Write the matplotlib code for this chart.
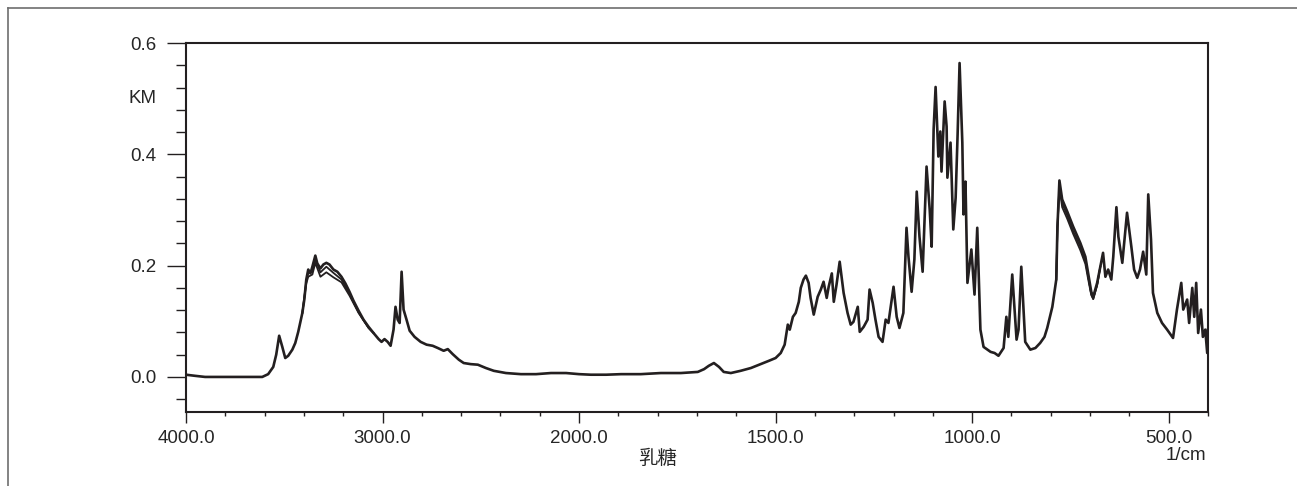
import numpy as np
import matplotlib
matplotlib.use("Agg")
import matplotlib.pyplot as plt
from matplotlib.lines import Line2D
from matplotlib.transforms import blended_transform_factory

# ---------------------------------------------------------------------------
# Data (wavenumber in 1/cm, KM units)
# ---------------------------------------------------------------------------
wavenumber = [
    4000, 3954, 3903, 3776, 3612, 3582, 3556, 3541, 3526, 3510, 3495, 3480,
    3459, 3444, 3429, 3408, 3398, 3388, 3378, 3367, 3357, 3342, 3332, 3316,
    3301, 3286, 3270, 3250, 3230, 3209, 3189, 3168, 3148, 3122, 3097, 3071,
    3046, 3020, 3005, 2990, 2974, 2959, 2944, 2934, 2923, 2913, 2903, 2893,
    2878, 2862, 2837, 2806, 2776, 2745, 2719, 2689, 2668, 2643, 2612, 2587,
    2551, 2515, 2474, 2434, 2372, 2296, 2219, 2143, 2066, 2000,
    1970, 1931, 1893, 1843, 1792, 1741, 1698, 1682, 1670, 1657, 1644, 1632,
    1614, 1589, 1563, 1538, 1517, 1500, 1487, 1477, 1469, 1464, 1456, 1449,
    1441, 1436, 1429, 1423, 1416, 1411, 1403, 1393, 1385, 1378, 1370, 1365,
    1357, 1352, 1345, 1337, 1327, 1317, 1309, 1302, 1291, 1286, 1276, 1266,
    1261, 1253, 1246, 1238, 1228, 1220, 1213, 1200, 1192, 1185, 1175, 1167,
    1162, 1154, 1147, 1141, 1134, 1126, 1116, 1108, 1103, 1098, 1093, 1086,
    1081, 1078, 1070, 1065, 1063, 1055, 1048, 1042, 1037, 1032, 1025, 1022,
    1017, 1012, 1002, 994, 987, 979, 971, 961, 953, 943, 933, 920,
    913, 908, 898, 887, 882, 875, 865, 852, 839, 827, 816, 809,
    796, 786, 783, 778, 771, 758, 743, 725, 712, 705, 697, 692,
    682, 674, 667, 661, 654, 646, 641, 633, 628, 618, 606, 595,
    588, 580, 573, 565, 557, 552, 545, 540, 529, 517, 504, 489,
    479, 468, 463, 453, 448, 440, 435, 430, 425, 418, 413, 407,
    402, 400,
]
km_main = [
    0.004, 0.002, 0.000, 0.000, 0.000, 0.005, 0.018, 0.040, 0.074, 0.054, 0.034, 0.038,
    0.049, 0.061, 0.081, 0.115, 0.139, 0.175, 0.193, 0.186, 0.198, 0.218, 0.204, 0.195,
    0.202, 0.205, 0.202, 0.193, 0.189, 0.180, 0.168, 0.153, 0.137, 0.119, 0.103, 0.090,
    0.079, 0.068, 0.063, 0.068, 0.063, 0.056, 0.085, 0.126, 0.103, 0.097, 0.189, 0.121,
    0.103, 0.083, 0.072, 0.063, 0.058, 0.056, 0.052, 0.047, 0.050, 0.041, 0.031, 0.025,
    0.023, 0.022, 0.016, 0.011, 0.007, 0.005, 0.005, 0.007, 0.007, 0.005,
    0.004, 0.004, 0.005, 0.005, 0.007, 0.007, 0.009, 0.014, 0.020, 0.025, 0.018, 0.009,
    0.007, 0.011, 0.016, 0.023, 0.029, 0.034, 0.043, 0.058, 0.094, 0.085, 0.108, 0.115,
    0.135, 0.160, 0.175, 0.182, 0.169, 0.142, 0.112, 0.144, 0.157, 0.171, 0.142, 0.162,
    0.186, 0.135, 0.166, 0.207, 0.151, 0.115, 0.094, 0.099, 0.126, 0.081, 0.090, 0.103,
    0.157, 0.133, 0.103, 0.072, 0.063, 0.103, 0.097, 0.162, 0.108, 0.088, 0.115, 0.268,
    0.216, 0.153, 0.211, 0.333, 0.252, 0.189, 0.378, 0.301, 0.234, 0.445, 0.521, 0.396,
    0.441, 0.369, 0.495, 0.450, 0.358, 0.421, 0.265, 0.322, 0.436, 0.564, 0.421, 0.292,
    0.351, 0.169, 0.229, 0.148, 0.268, 0.085, 0.054, 0.049, 0.045, 0.043, 0.038, 0.052,
    0.108, 0.072, 0.184, 0.067, 0.085, 0.198, 0.063, 0.049, 0.052, 0.061, 0.072, 0.088,
    0.126, 0.175, 0.270, 0.353, 0.319, 0.297, 0.270, 0.241, 0.216, 0.187, 0.153, 0.144,
    0.169, 0.198, 0.223, 0.180, 0.193, 0.175, 0.216, 0.305, 0.252, 0.205, 0.295, 0.234,
    0.193, 0.178, 0.193, 0.225, 0.184, 0.328, 0.247, 0.151, 0.115, 0.097, 0.085, 0.070,
    0.121, 0.169, 0.121, 0.139, 0.097, 0.160, 0.108, 0.169, 0.079, 0.121, 0.072, 0.085,
    0.043, 0.085,
]

# replicate scans, only where they visibly split from the main trace
wn_oh = [3408, 3388, 3378, 3357, 3342, 3316, 3286, 3250, 3209, 3168, 3122, 3071, 3046]
km_oh_b = [0.115, 0.172, 0.186, 0.190, 0.212, 0.188, 0.198, 0.187, 0.175, 0.149, 0.116, 0.088, 0.079]
km_oh_c = [0.115, 0.168, 0.180, 0.184, 0.205, 0.180, 0.188, 0.179, 0.170, 0.146, 0.115, 0.088, 0.079]

wn_fp = [786, 783, 778, 771, 758, 743, 725, 712, 705, 697, 692, 682, 674]
km_fp_b = [0.175, 0.270, 0.345, 0.312, 0.290, 0.262, 0.234, 0.208, 0.181, 0.149, 0.140, 0.165, 0.198]
km_fp_c = [0.175, 0.268, 0.340, 0.305, 0.284, 0.257, 0.228, 0.203, 0.176, 0.147, 0.140, 0.165, 0.198]

x_major = [4000, 3000, 2000, 1500, 1000, 500]
x_minor = [3800, 3600, 3400, 3200, 2800, 2600, 2400, 2200,
           1900, 1800, 1700, 1600, 1400, 1300, 1200, 1100,
           900, 800, 700, 600, 400]
y_major = [0.0, 0.2, 0.4, 0.6]
y_minor = [-0.04, 0.04, 0.08, 0.12, 0.16, 0.24, 0.28, 0.32, 0.36,
           0.44, 0.48, 0.52, 0.56]

INK = "#231f20"
TXT = "#262626"


# split wavenumber axis: 2000-400 is drawn at twice the scale of 4000-2000
def fwd(x):
    x = np.asarray(x, dtype=float)
    return np.where(x >= 2000, x, 2 * x - 2000)


def inv(y):
    y = np.asarray(y, dtype=float)
    return np.where(y >= 2000, y, (y + 2000) / 2)


plt.rcParams["font.family"] = ["Liberation Sans", "DejaVu Sans"]

fig = plt.figure(figsize=(12.97, 4.86), dpi=100)
ax = fig.add_axes([186 / 1297, 1 - 412 / 486, (1208 - 186) / 1297, (412 - 43) / 486])

ax.plot(wn_oh, km_oh_c, color=INK, lw=1.3)
ax.plot(wn_oh, km_oh_b, color=INK, lw=1.3)
ax.plot(wn_fp, km_fp_c, color=INK, lw=1.3)
ax.plot(wn_fp, km_fp_b, color=INK, lw=1.3)
ax.plot(wavenumber, km_main, color=INK, lw=1.9)

ax.set_xscale("function", functions=(fwd, inv))
ax.set_xlim(4000, 400)
ax.set_ylim(-0.063, 0.6)

ax.set_xticks(x_major)
ax.set_xticklabels([f"{v:.1f}" for v in x_major])
ax.set_xticks(x_minor, minor=True)
ax.set_yticks(y_major)
ax.set_yticklabels([f"{v:.1f}" for v in y_major])
ax.set_yticks(y_minor, minor=True)

for s in ax.spines.values():
    s.set_linewidth(1.5)
    s.set_color(INK)

ax.tick_params(axis="x", which="major", length=8, width=1.0, pad=5,
               labelsize=13.5, colors=INK, labelcolor=TXT)
ax.tick_params(axis="x", which="minor", length=3, width=1.0, colors=INK)
ax.tick_params(axis="y", which="major", length=14, width=1.0, pad=7,
               labelsize=13.5, colors=INK, labelcolor=TXT)
ax.tick_params(axis="y", which="minor", length=7, width=1.0, colors=INK)

# y-axis unit sits among the tick labels, at the 0.5 level
ax.text(157 / 1297, 0.5, "KM",
        transform=blended_transform_factory(fig.transFigure, ax.transData),
        fontsize=13.5, color=TXT, ha="right", va="center")

fig.text(658 / 1297, 1 - 458 / 486, "乳糖", fontsize=14, color=TXT,
         ha="center", va="center", family=["Noto Sans CJK SC", "DejaVu Sans"])
fig.text(1206 / 1297, 1 - 455 / 486, "1/cm", fontsize=13.5, color=TXT,
         ha="right", va="center")

# outer frame of the original export (top and left edges only)
fig.add_artist(Line2D([8 / 1297, 1], [1 - 8 / 486, 1 - 8 / 486],
                      transform=fig.transFigure, color="#6e6e6e", lw=1.2))
fig.add_artist(Line2D([8 / 1297, 8 / 1297], [0, 1 - 8 / 486],
                      transform=fig.transFigure, color="#6e6e6e", lw=1.2))

fig.savefig("out.png", dpi=100)
